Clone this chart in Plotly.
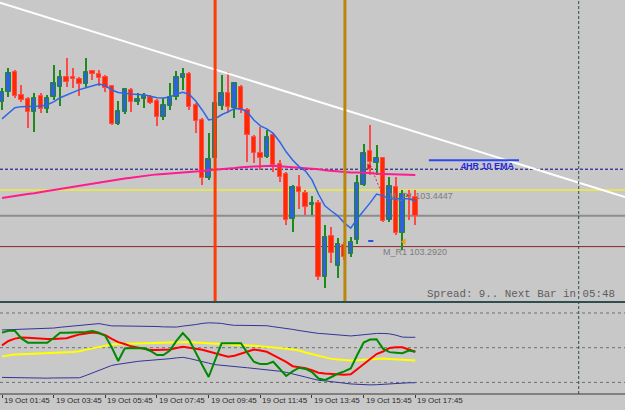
import plotly.graph_objects as go

# ---------------- data (15-minute bars, 19 Oct 01:45 .. 17:45) ----------------
opens = [103.682, 103.710, 103.763, 103.702, 103.691, 103.656, 103.700, 103.663, 103.697, 103.724,
         103.749, 103.749, 103.745, 103.730, 103.766, 103.757, 103.751, 103.726, 103.622, 103.655,
         103.715, 103.682, 103.691, 103.697, 103.686, 103.641, 103.673, 103.697, 103.748, 103.758,
         103.675, 103.634, 103.478, 103.531, 103.673, 103.706, 103.666, 103.724, 103.661, 103.589,
         103.546, 103.535, 103.594, 103.514, 103.487, 103.366, 103.454, 103.436, 103.403, 103.411,
         103.211, 103.321, 103.240, 103.296, 103.271, 103.310, 103.459, 103.551, 103.519, 103.531,
         103.364, 103.454, 103.330, 103.432, 103.425]
highs = [103.720, 103.774, 103.769, 103.729, 103.697, 103.706, 103.706, 103.702, 103.782, 103.769,
         103.801, 103.774, 103.751, 103.802, 103.769, 103.769, 103.755, 103.729, 103.685, 103.721,
         103.720, 103.706, 103.706, 103.702, 103.691, 103.693, 103.733, 103.766, 103.774, 103.764,
         103.679, 103.639, 103.598, 103.694, 103.755, 103.763, 103.737, 103.729, 103.666, 103.594,
         103.616, 103.607, 103.598, 103.526, 103.494, 103.459, 103.486, 103.445, 103.429, 103.418,
         103.350, 103.346, 103.315, 103.305, 103.319, 103.486, 103.568, 103.621, 103.567, 103.535,
         103.481, 103.481, 103.445, 103.445, 103.445]
lows = [103.661, 103.697, 103.693, 103.683, 103.613, 103.601, 103.652, 103.652, 103.688, 103.673,
        103.724, 103.720, 103.700, 103.724, 103.742, 103.727, 103.710, 103.620, 103.620, 103.649,
        103.656, 103.675, 103.666, 103.677, 103.619, 103.634, 103.661, 103.688, 103.715, 103.661,
        103.598, 103.459, 103.472, 103.526, 103.661, 103.652, 103.639, 103.652, 103.521, 103.517,
        103.499, 103.531, 103.494, 103.467, 103.351, 103.332, 103.394, 103.376, 103.378, 103.202,
        103.180, 103.247, 103.207, 103.256, 103.265, 103.299, 103.456, 103.486, 103.486, 103.359,
        103.359, 103.324, 103.283, 103.364, 103.351]
closes = [103.710, 103.760, 103.700, 103.688, 103.656, 103.693, 103.663, 103.693, 103.733, 103.751,
          103.737, 103.744, 103.730, 103.763, 103.757, 103.748, 103.720, 103.622, 103.658, 103.718,
          103.683, 103.691, 103.700, 103.679, 103.641, 103.675, 103.697, 103.750, 103.758, 103.668,
          103.631, 103.477, 103.529, 103.679, 103.706, 103.670, 103.733, 103.661, 103.594, 103.544,
          103.532, 103.589, 103.513, 103.481, 103.364, 103.454, 103.440, 103.400, 103.411, 103.209,
          103.319, 103.274, 103.299, 103.265, 103.305, 103.463, 103.546, 103.521, 103.531, 103.362,
          103.456, 103.330, 103.433, 103.425, 103.375]

ema_fast = [103.637, 103.652, 103.667, 103.670, 103.670, 103.670, 103.672, 103.675, 103.683, 103.694,
            103.702, 103.709, 103.716, 103.721, 103.727, 103.731, 103.727, 103.715, 103.708, 103.705,
            103.704, 103.703, 103.702, 103.698, 103.694, 103.693, 103.696, 103.704, 103.709, 103.703,
            103.685, 103.661, 103.634, 103.637, 103.648, 103.656, 103.665, 103.664, 103.655, 103.634,
            103.618, 103.610, 103.598, 103.575, 103.548, 103.526, 103.508, 103.496, 103.472, 103.434,
            103.402, 103.388, 103.375, 103.356, 103.342, 103.367, 103.388, 103.410, 103.434, 103.429,
            103.421, 103.421, 103.423, 103.421, 103.415]
ma_slow = [103.423, 103.426, 103.429, 103.432, 103.434, 103.436, 103.440, 103.442, 103.445, 103.448,
           103.450, 103.454, 103.457, 103.460, 103.462, 103.465, 103.467, 103.470, 103.473, 103.476,
           103.478, 103.481, 103.483, 103.485, 103.487, 103.488, 103.490, 103.491, 103.493, 103.494,
           103.495, 103.496, 103.498, 103.499, 103.501, 103.503, 103.504, 103.506, 103.508, 103.508,
           103.509, 103.510, 103.510, 103.509, 103.508, 103.506, 103.505, 103.504, 103.502, 103.501,
           103.498, 103.496, 103.494, 103.493, 103.492, 103.492, 103.492, 103.491, 103.489, 103.488,
           103.487, 103.486, 103.486, 103.486, 103.485]

# TDI sub-window
tdi_green = [57.8, 58.8, 58.8, 54.8, 52.6, 52.6, 52.6, 52.6, 55.0, 57.8,
             57.8, 57.8, 57.8, 58.1, 58.7, 57.8, 56.1, 50.1, 43.1, 49.6,
             49.9, 49.9, 49.7, 48.3, 46.2, 46.2, 48.5, 53.5, 57.6, 54.0,
             47.3, 41.0, 34.8, 43.6, 52.3, 52.3, 52.3, 52.3, 47.3, 42.7,
             41.5, 41.5, 42.7, 39.2, 35.3, 37.7, 39.6, 39.0, 37.4, 34.0,
             33.2, 34.8, 36.5, 37.7, 39.2, 46.2, 52.7, 54.2, 54.4, 49.5,
             47.7, 47.4, 47.1, 48.5, 47.9]
tdi_red = [51.2, 53.5, 54.7, 55.3, 55.1, 54.8, 54.6, 54.5, 54.5, 54.7,
           54.9, 55.9, 56.9, 57.4, 57.9, 57.5, 56.5, 54.6, 52.9, 51.9,
           50.7, 50.1, 49.4, 48.8, 48.8, 48.8, 49.1, 49.8, 50.5, 50.0,
           49.5, 48.9, 48.0, 47.1, 46.2, 45.3, 45.8, 46.9, 48.1, 49.1,
           48.5, 47.9, 46.2, 44.6, 42.6, 40.4, 39.8, 39.4, 38.3, 37.0,
           36.6, 36.4, 36.2, 36.0, 36.2, 38.8, 41.5, 44.2, 46.7, 48.0,
           49.9, 50.2, 50.2, 49.1, 47.9]
tdi_yellow = [45.5, 46.0, 46.5, 46.6, 46.7, 46.8, 46.9, 47.0, 47.2, 47.4,
              47.6, 47.8, 48.2, 49.0, 49.7, 50.4, 51.0, 51.6, 51.9, 52.0,
              52.1, 52.2, 52.3, 52.4, 52.5, 52.5, 52.6, 52.9, 53.0, 53.0,
              52.7, 52.4, 52.2, 52.1, 52.0, 51.9, 51.7, 51.5, 51.2, 51.0,
              50.8, 50.5, 50.2, 49.8, 49.5, 49.1, 48.5, 47.5, 46.7, 45.7,
              44.8, 44.2, 43.9, 43.6, 43.3, 43.5, 43.8, 44.0, 44.3, 44.4,
              44.1, 43.9, 43.7, 43.5, 43.3]
tdi_upper = [59.2, 59.3, 59.4, 59.6, 59.7, 59.8, 59.9, 60.0, 60.2, 60.6,
             60.9, 61.3, 61.8, 62.1, 62.4, 62.5, 61.9, 61.3, 61.3, 61.3,
             61.3, 61.3, 61.3, 61.2, 61.0, 60.8, 60.7, 60.7, 61.2, 61.5,
             62.0, 62.6, 62.9, 62.8, 62.6, 62.0, 61.6, 61.6, 61.5, 61.5,
             61.5, 61.4, 60.9, 60.5, 60.0, 59.5, 58.9, 58.4, 57.6, 57.4,
             57.2, 57.0, 56.7, 56.4, 56.1, 56.4, 56.8, 57.1, 57.4, 57.4,
             57.2, 56.5, 55.5, 55.4, 55.4]
tdi_lower = [34.6, 34.5, 34.4, 34.3, 34.2, 34.1, 34.2, 34.2, 34.3, 34.3,
             34.3, 34.4, 34.4, 35.6, 36.9, 38.2, 39.5, 40.8, 41.4, 42.0,
             42.6, 42.9, 43.2, 43.4, 43.6, 44.0, 44.3, 44.7, 45.0, 44.4,
             43.7, 42.8, 42.0, 41.2, 40.8, 40.5, 40.2, 39.9, 39.6, 39.3,
             38.9, 38.5, 38.1, 37.8, 37.2, 36.5, 35.7, 34.8, 33.9, 33.1,
             32.8, 32.5, 32.1, 31.6, 31.2, 31.0, 30.8, 30.7, 30.8, 31.0,
             31.2, 31.4, 31.8, 31.8, 31.8]
tdi_levels = [68, 50, 32]

tick_bars = [0, 8, 16, 24, 32, 40, 48, 56, 64]
tick_labels = ["19 Oct 01:45", "19 Oct 03:45", "19 Oct 05:45", "19 Oct 07:45", "19 Oct 09:45",
               "19 Oct 11:45", "19 Oct 13:45", "19 Oct 15:45", "19 Oct 17:45"]

# chart objects
pivot_p1 = 103.4447
pivot_r1 = 103.2920
level_dash = 103.501
level_gray = 103.375
vline_red_bar = 33
vline_gold_bar = 53.1
shift_bar = 89.3
trend_bars = [0, 64]
trend_prices = [103.949, 103.602]
ema4h_bars = [66.1, 80.06]
ema4h_price = 103.525
ema4h_text = "4HR 10 EMA"
p1_label = "M_P1 103.4447"
r1_label = "M_R1 103.2920"
label_bars = [69.8, 68.9]
label_prices = [103.427, 103.274]
spread_text = "Spread: 9.. Next Bar in 05:48"
arrow_bars = [56.8]
arrow_prices = [103.508]
trade_line_bars = [57.2, 58.8]
trade_line_prices = [103.504, 103.436]
dash_mark_bars = [56.7, 57.5]
dash_mark_price = 103.307
close_mark_bar = [62.25]
close_mark_price = [103.305]

# ---------------- figure ----------------
H = 410.0
x_range = [-0.31, 96.47]
main_dom = [1 - 301 / H, 1]
sub_dom = [1 - 394 / H, 1 - 304 / H]
BG = "#C8C8C8"

bars = list(range(len(opens)))
bull = [i for i in bars if closes[i] >= opens[i]]
bear = [i for i in bars if closes[i] < opens[i]]

fig = go.Figure()

# indicator lines (drawn below candles)
fig.add_trace(go.Scatter(x=bars, y=ma_slow, mode="lines", line=dict(color="#FF1C8E", width=2),
                         hoverinfo="skip"))
fig.add_trace(go.Scatter(x=bars, y=ema_fast, mode="lines", line=dict(color="#2F66E6", width=1.5),
                         hoverinfo="skip"))
fig.add_trace(go.Scatter(x=label_bars, y=label_prices, mode="text", text=[p1_label, r1_label],
                         textposition="middle left",
                         textfont=dict(family="Liberation Sans, Arial", size=9, color="#7C7C7C"),
                         hoverinfo="skip"))
fig.add_trace(go.Scatter(x=trade_line_bars, y=trade_line_prices, mode="lines",
                         line=dict(color="#FF2020", width=1, dash="2px,2px"), hoverinfo="skip"))
fig.add_trace(go.Scatter(x=dash_mark_bars, y=[dash_mark_price] * 2, mode="lines",
                         line=dict(color="#2F4FE0", width=2), hoverinfo="skip"))
fig.add_trace(go.Scatter(x=arrow_bars, y=arrow_prices, mode="markers",
                         marker=dict(symbol="triangle-right", size=6, color="#FF1010"), hoverinfo="skip"))
fig.add_trace(go.Scatter(x=close_mark_bar, y=close_mark_price, mode="markers",
                         marker=dict(symbol="triangle-left", size=6, color="#F0A020"), hoverinfo="skip"))

# candles: wicks then bodies
fig.add_trace(go.Bar(x=bull, base=[lows[i] for i in bull], y=[highs[i] - lows[i] for i in bull],
                     width=0.17, marker=dict(color="#1E8A1E", line=dict(width=0)), hoverinfo="skip"))
fig.add_trace(go.Bar(x=bear, base=[lows[i] for i in bear], y=[highs[i] - lows[i] for i in bear],
                     width=0.17, marker=dict(color="#FF4A4A", line=dict(width=0)), hoverinfo="skip"))
fig.add_trace(go.Bar(x=bull, base=[opens[i] for i in bull], y=[closes[i] - opens[i] for i in bull],
                     width=0.68, marker=dict(color="#2F62D8", line=dict(color="#1E8A1E", width=1)),
                     hoverinfo="skip"))
fig.add_trace(go.Bar(x=bear, base=[closes[i] for i in bear], y=[opens[i] - closes[i] for i in bear],
                     width=0.68, marker=dict(color="#FF2A00", line=dict(color="#FF4A4A", width=1)),
                     hoverinfo="skip"))

# TDI window
for vals, col, w in [(tdi_upper, "#33339A", 1), (tdi_lower, "#33339A", 1),
                     (tdi_yellow, "#FFFF00", 2), (tdi_red, "#FF0000", 2), (tdi_green, "#008A00", 2)]:
    fig.add_trace(go.Scatter(x=bars, y=vals, mode="lines", line=dict(color=col, width=w),
                             xaxis="x2", yaxis="y2", hoverinfo="skip"))

shapes = []
# horizontal levels (behind candles)
for y, col, w, dash in [(level_dash, "#000080", 1, "3px,2px"), (pivot_p1, "#FFFF00", 1, "solid"),
                        (level_gray, "#8C8C8C", 2, "solid"), (pivot_r1 - 0.0028, "#86E0E0", 1, "solid"),
                        (pivot_r1, "#C81010", 1, "solid")]:
    shapes.append(dict(type="line", xref="paper", x0=0, x1=1, yref="y", y0=y, y1=y, layer="below",
                       line=dict(color=col, width=w, dash=dash)))
for lv in tdi_levels:
    shapes.append(dict(type="line", xref="paper", x0=0, x1=1, yref="y2", y0=lv, y1=lv, layer="below",
                       line=dict(color="#6E6E6E", width=1, dash="3px,3px")))
# trend line (ray through both anchors)
slope = (trend_prices[1] - trend_prices[0]) / (trend_bars[1] - trend_bars[0])
shapes.append(dict(type="line", xref="x", yref="y", x0=x_range[0],
                   y0=trend_prices[0] + slope * (x_range[0] - trend_bars[0]),
                   x1=x_range[1], y1=trend_prices[0] + slope * (x_range[1] - trend_bars[0]),
                   line=dict(color="#FFFFFF", width=2)))
# 4h EMA marker
shapes.append(dict(type="line", xref="x", yref="y", x0=ema4h_bars[0], x1=ema4h_bars[1],
                   y0=ema4h_price, y1=ema4h_price, line=dict(color="#2A48F0", width=2)))
# vertical lines
shapes.append(dict(type="line", xref="x", x0=vline_red_bar, x1=vline_red_bar, yref="paper",
                   y0=main_dom[0], y1=1, line=dict(color="#FF3B0A", width=3)))
shapes.append(dict(type="line", xref="x", x0=vline_gold_bar, x1=vline_gold_bar, yref="paper",
                   y0=main_dom[0], y1=1, line=dict(color="#B8860B", width=3)))
shapes.append(dict(type="line", xref="x", x0=shift_bar, x1=shift_bar, yref="paper",
                   y0=sub_dom[0], y1=1, line=dict(color="#2F4F4F", width=1, dash="3px,2px")))
# window separator and bottom border
shapes.append(dict(type="line", xref="paper", x0=0, x1=1, yref="paper", y0=1 - 302 / H, y1=1 - 302 / H,
                   line=dict(color="#2F4F4F", width=2)))
shapes.append(dict(type="line", xref="paper", x0=0, x1=1, yref="paper", y0=sub_dom[0], y1=sub_dom[0],
                   line=dict(color="#3A3A3A", width=1)))

annotations = [
    dict(x=75.18, y=103.510, xref="x", yref="y", text=ema4h_text, showarrow=False,
         font=dict(family="Liberation Sans, Arial", size=9, color="#2626E8", weight="bold"),
         xanchor="center", yanchor="middle"),
    dict(x=616.7 / 625, y=1 - 294 / H, xref="paper", yref="paper", text=spread_text, showarrow=False,
         font=dict(family="Liberation Mono, Courier New", size=10.8, color="#5E5E5E"),
         xanchor="right", yanchor="middle"),
]
for b, lab in zip(tick_bars, tick_labels):
    annotations.append(dict(x=b, y=1 - 400 / H, xref="x2", yref="paper", text=lab, showarrow=False,
                            xanchor="left", yanchor="middle", xshift=0,
                            font=dict(family="Liberation Sans, Arial", size=8, color="#2A2A2A")))

noax = dict(showgrid=False, zeroline=False, showticklabels=False, ticks="", showline=False)
fig.update_layout(
    width=625, height=410, margin=dict(l=0, r=0, t=0, b=0),
    paper_bgcolor=BG, plot_bgcolor=BG, showlegend=False, barmode="overlay", bargap=0,
    xaxis=dict(domain=[0, 1], range=x_range, anchor="y", **noax),
    yaxis=dict(domain=main_dom, range=[103.145, 103.958], anchor="x", **noax),
    xaxis2=dict(domain=[0, 1], range=x_range, anchor="y2", matches="x", showgrid=False, zeroline=False,
                showticklabels=False, showline=False, ticks="outside", ticklen=3, tickwidth=1,
                tickcolor="#3A3A3A", tickmode="array", tickvals=tick_bars),
    yaxis2=dict(domain=sub_dom, range=[25.98, 72.67], anchor="x2", **noax),
    shapes=shapes, annotations=annotations,
)

fig.write_html("out.html")
